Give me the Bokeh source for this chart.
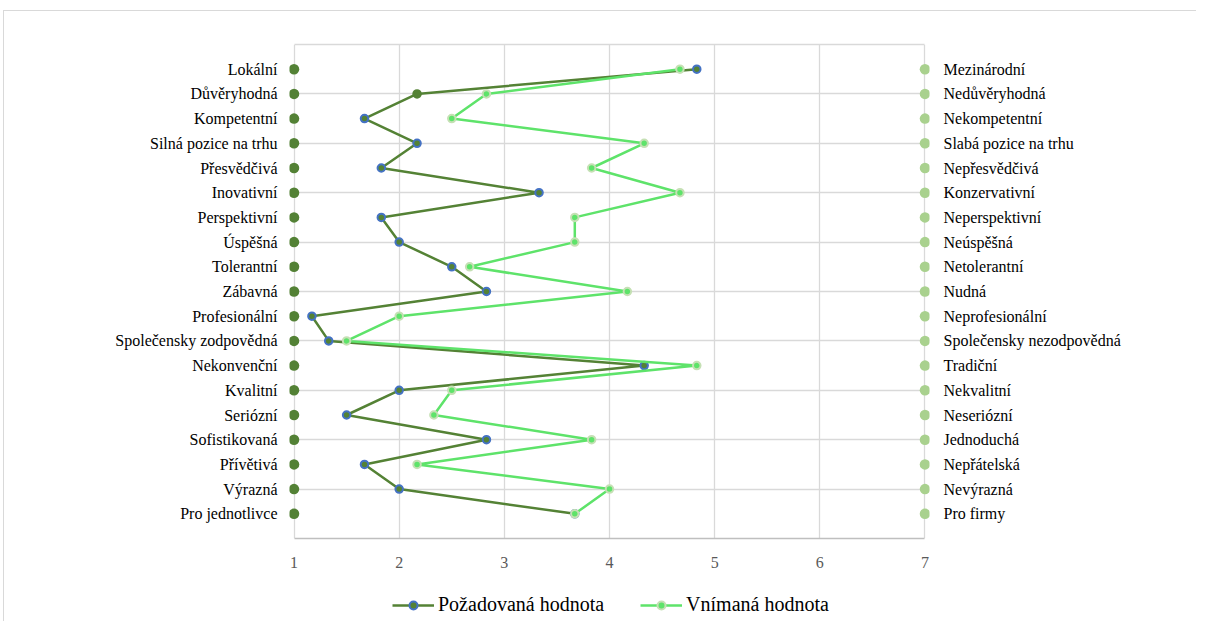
from bokeh.plotting import figure
from bokeh.layouts import column
from bokeh.models import (Range1d, FixedTicker, LinearAxis, Legend, LegendItem,
                          ColumnDataSource)
from bokeh.embed import file_html
from bokeh.resources import INLINE

# ---- data (top row first) ----
left_labels = ["Lokální", "Důvěryhodná", "Kompetentní", "Silná pozice na trhu",
               "Přesvědčivá", "Inovativní", "Perspektivní", "Úspěšná", "Tolerantní",
               "Zábavná", "Profesionální", "Společensky zodpovědná", "Nekonvenční",
               "Kvalitní", "Seriózní", "Sofistikovaná", "Přívětivá", "Výrazná",
               "Pro jednotlivce"]
right_labels = ["Mezinárodní", "Nedůvěryhodná", "Nekompetentní", "Slabá pozice na trhu",
                "Nepřesvědčivá", "Konzervativní", "Neperspektivní", "Neúspěšná",
                "Netolerantní", "Nudná", "Neprofesionální", "Společensky  nezodpovědná",
                "Tradiční", "Nekvalitní", "Neseriózní", "Jednoduchá", "Nepřátelská",
                "Nevýrazná", "Pro firmy"]
pozadovana = [4.83, 2.17, 1.67, 2.17, 1.83, 3.33, 1.83, 2.0, 2.5, 2.83,
              1.17, 1.33, 4.33, 2.0, 1.5, 2.83, 1.67, 2.0, 3.67]
vnimana = [4.67, 2.83, 2.5, 4.33, 3.83, 4.67, 3.67, 3.67, 2.67, 4.17,
           2.0, 1.5, 4.83, 2.5, 2.33, 3.83, 2.17, 4.0, 3.67]
x_ticks = [1, 2, 3, 4, 5, 6, 7]
series_names = ["Požadovaná hodnota", "Vnímaná hodnota"]
scale_min, scale_max = 1, 7

n = len(left_labels)
rows = [n - i for i in range(n)]  # 19 .. 1

DARK = "#548235"
BLUE = "#4472C4"
LIGHT = "#5EE36A"
PALE = "#C5E0B4"
GRID = "#D9D9D9"
serif = "Liberation Serif"

pad = 0.043
p = figure(frame_width=639, frame_height=493, output_backend="svg", toolbar_location=None,
           x_range=Range1d(scale_min - pad, scale_max + pad), y_range=Range1d(0, n + 1),
           min_border_left=285, min_border_right=268, min_border_top=33,
           min_border_bottom=50, x_axis_location=None, y_axis_location=None)
p.outline_line_color = None
p.background_fill_color = "white"
p.border_fill_color = "white"
p.styles = {"border-top": "1px solid #d9d9d9", "border-left": "1px solid #d9d9d9",
            "margin-top": "10px", "margin-left": "3px"}

# bottom axis
xaxis = LinearAxis(ticker=FixedTicker(ticks=x_ticks), bounds=(scale_min, scale_max))
xaxis.axis_line_color = "#BFBFBF"
xaxis.axis_line_width = 1.5
xaxis.major_tick_line_color = None
xaxis.minor_tick_line_color = None
xaxis.major_tick_out = 0
xaxis.major_label_standoff = 18
xaxis.major_label_text_font = "Liberation Sans Narrow"
xaxis.major_label_text_font_size = "16px"
xaxis.major_label_text_color = "#595959"
p.add_layout(xaxis, "below")

# top line
top_axis = LinearAxis(ticker=FixedTicker(ticks=[]), bounds=(scale_min, scale_max))
top_axis.axis_line_color = GRID
top_axis.axis_line_width = 1.3
top_axis.major_tick_line_color = None
top_axis.minor_tick_line_color = None
top_axis.major_label_text_font_size = "0px"
p.add_layout(top_axis, "above")

# left / right category axes
for loc, labels, standoff in (("left", left_labels, 6), ("right", right_labels, 8)):
    ax = LinearAxis(ticker=FixedTicker(ticks=rows),
                    major_label_overrides={r: lab for r, lab in zip(rows, labels)})
    ax.axis_line_color = None
    ax.major_tick_line_color = None
    ax.minor_tick_line_color = None
    ax.major_label_standoff = standoff
    ax.major_label_text_font = serif
    ax.major_label_text_font_size = "16px"
    ax.major_label_text_color = "#000000"
    p.add_layout(ax, loc)

# grids
p.xgrid.ticker = FixedTicker(ticks=x_ticks)
p.xgrid.grid_line_color = GRID
p.xgrid.grid_line_width = 1.3
p.ygrid.ticker = FixedTicker(ticks=list(range(0, n + 2, 2)))
p.ygrid.grid_line_color = GRID
p.ygrid.grid_line_width = 1.3

# anchor dots
p.scatter(x=[scale_min] * n, y=rows, size=10.5, fill_color="#538135", line_color=None)
p.scatter(x=[scale_max] * n, y=rows, size=10.5, fill_color="#A9D18E", line_color=None)

# series
marker_line = [BLUE] * n
marker_line[1] = DARK
src1 = ColumnDataSource(dict(x=pozadovana, y=rows, lc=marker_line))
src2 = ColumnDataSource(dict(x=vnimana, y=rows))

line_style1 = dict(line_color=DARK, line_width=2.5)
mark_style1 = dict(size=7.5, fill_color=DARK, line_width=2)
line_style2 = dict(line_color=LIGHT, line_width=2.5)
mark_style2 = dict(size=7.5, fill_color=LIGHT, line_color=PALE, line_width=2)

p.line("x", "y", source=src1, **line_style1)
p.scatter("x", "y", source=src1, line_color="lc", **mark_style1)
p.line("x", "y", source=src2, **line_style2)
p.scatter("x", "y", source=src2, **mark_style2)

# legend strip: own small figure (its frame is aligned with the chart frame);
# its view range lies outside the data, so only the legend is seen
lg = figure(width=1190, height=34, output_backend="svg", toolbar_location=None,
            x_axis_location=None, y_axis_location=None, min_border=0,
            x_range=Range1d(-20, -19), y_range=Range1d(-20, -19))
lg.outline_line_color = None
lg.xgrid.visible = False
lg.ygrid.visible = False
lg.styles = {"border-left": "1px solid #d9d9d9", "margin-left": "3px"}
k1 = lg.line("x", "y", source=src1, **line_style1)
m1 = lg.scatter("x", "y", source=src1, line_color=BLUE, **mark_style1)
k2 = lg.line("x", "y", source=src2, **line_style2)
m2 = lg.scatter("x", "y", source=src2, **mark_style2)

legend = Legend(items=[LegendItem(label=series_names[0], renderers=[k1, m1]),
                       LegendItem(label=series_names[1], renderers=[k2, m2])],
                orientation="horizontal", location=(103, 5))
legend.label_text_font = serif
legend.label_text_font_size = "20px"
legend.label_text_color = "#000000"
legend.glyph_width = 42
legend.glyph_height = 20
legend.label_height = 20
legend.label_standoff = 4
legend.spacing = 36
legend.padding = 0
legend.margin = 0
legend.border_line_color = None
legend.background_fill_color = None
lg.add_layout(legend, "center")

open("out.html", "w").write(file_html(column(p, lg), INLINE))
